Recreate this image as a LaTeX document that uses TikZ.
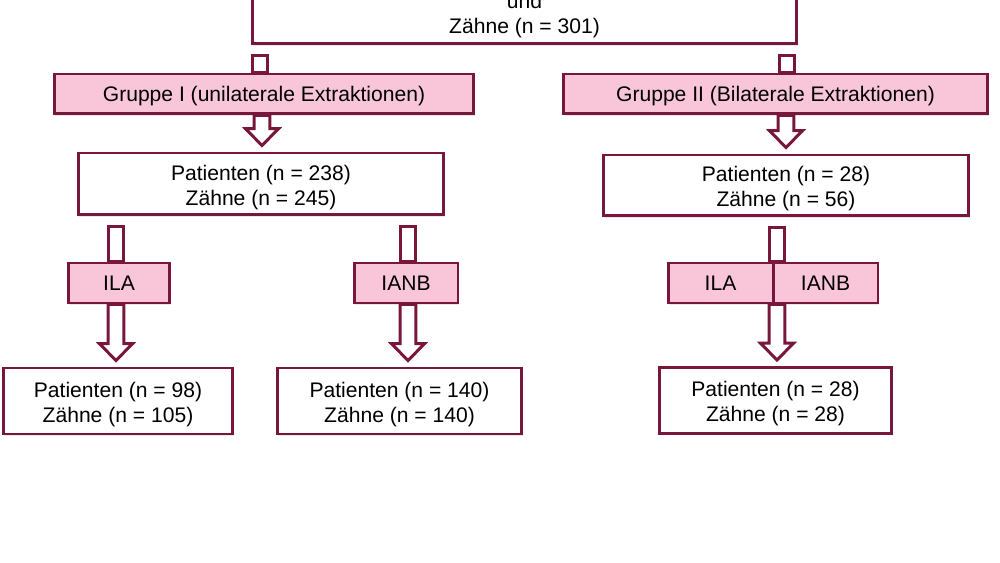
\documentclass[tikz,border=0pt]{standalone}
\usepackage{fontspec}
\setmainfont{Liberation Sans}
\usetikzlibrary{calc,shadows}
\usepackage{xcolor}
\definecolor{rahmen}{RGB}{120,22,60}
\definecolor{rosa}{RGB}{248,198,216}
\newcommand{\schaft}{4.5pt}
\newcommand{\kopf}{9.4pt}
\newcommand{\spitze}{9.6pt}
\newcommand{\luft}{3.4pt}
\newcommand{\abstand}{5.8pt}
% Hohlpfeil mit Spitze von #2 nach #3 bei x = #1
\newcommand{\blockpfeil}[3]{%
  \draw[pfeil] let \p0=(#1,0), \p1=(#2.south), \p2=(#3.north) in
    ({\x0-\schaft},\y1) -- ({\x0-\schaft},{\y2+\spitze+\luft}) -- ({\x0-\kopf},{\y2+\spitze+\luft})
    -- (\x0,{\y2+\luft}) -- ({\x0+\kopf},{\y2+\spitze+\luft}) -- ({\x0+\schaft},{\y2+\spitze+\luft})
    -- ({\x0+\schaft},\y1) -- cycle;}
% Schaft ohne Spitze von #2 nach #3 bei x = #1
\newcommand{\schaftstueck}[3]{%
  \draw[pfeil] let \p0=(#1,0), \p1=(#2.south), \p2=(#3.north) in
    ({\x0-\schaft},{\y1-\abstand}) rectangle ({\x0+\schaft},\y2);}

\begin{document}
\begin{tikzpicture}[x=0.02cm,y=-0.02cm,font=\fontsize{12}{14.2}\selectfont,
    box/.style={draw=rahmen,line width=1.7pt,fill=white,inner sep=0pt,align=center,
      text height=26.8pt,text depth=2.8pt,
      drop shadow={shadow xshift=0.6pt,shadow yshift=-0.9pt,opacity=0.18}},
    gruppe/.style={box,fill=rosa,minimum height=0.8cm,text height=11.4pt,text depth=2.8pt},
    pfeil/.style={draw=rahmen,line width=1.7pt,fill=white}]
  \useasboundingbox (0,0) rectangle (1000,563);
  \node[box,minimum width=10.9cm,minimum height=1.22cm,text height=25.6pt] (top) at (524.5,13.5) {und\\Zähne (n = 301)};
  \node[gruppe,minimum width=8.4cm] (g1) at (264,94) {Gruppe I (unilaterale Extraktionen)};
  \node[gruppe,minimum width=8.5cm] (g2) at (775.5,94) {Gruppe II (Bilaterale Extraktionen)};
  \node[box,minimum width=7.32cm,minimum height=1.24cm] (p1) at (261,184) {Patienten (n = 238)\\Zähne (n = 245)};
  \node[box,minimum width=7.32cm,minimum height=1.22cm] (p2) at (786,185.5) {Patienten (n = 28)\\Zähne (n = 56)};
  \node[gruppe,minimum width=2.04cm] (ila1) at (119,283) {ILA};
  \node[gruppe,minimum width=2.08cm] (ianb1) at (406,283) {IANB};
  \node[gruppe,minimum width=2.1cm] (ila2) at (720.5,283) {ILA};
  \node[gruppe,minimum width=2.1cm] (ianb2) at (825.5,283) {IANB};
  \node[box,minimum width=4.6cm,minimum height=1.32cm] (r1) at (118,401) {Patienten (n = 98)\\Zähne (n = 105)};
  \node[box,minimum width=4.9cm,minimum height=1.32cm] (r2) at (399.5,401) {Patienten (n = 140)\\Zähne (n = 140)};
  \node[box,minimum width=4.66cm,minimum height=1.32cm] (r3) at (775.5,400.5) {Patienten (n = 28)\\Zähne (n = 28)};
  % Pfeile
  \schaftstueck{260}{top}{g1}
  \schaftstueck{787}{top}{g2}
  \blockpfeil{262}{g1}{p1}
  \blockpfeil{786}{g2}{p2}
  \schaftstueck{116}{p1}{ila1}
  \schaftstueck{408}{p1}{ianb1}
  \schaftstueck{777}{p2}{ila2}
  \blockpfeil{116}{ila1}{r1}
  \blockpfeil{408}{ianb1}{r2}
  \blockpfeil{777}{ila2}{r3}
\end{tikzpicture}
\end{document}
